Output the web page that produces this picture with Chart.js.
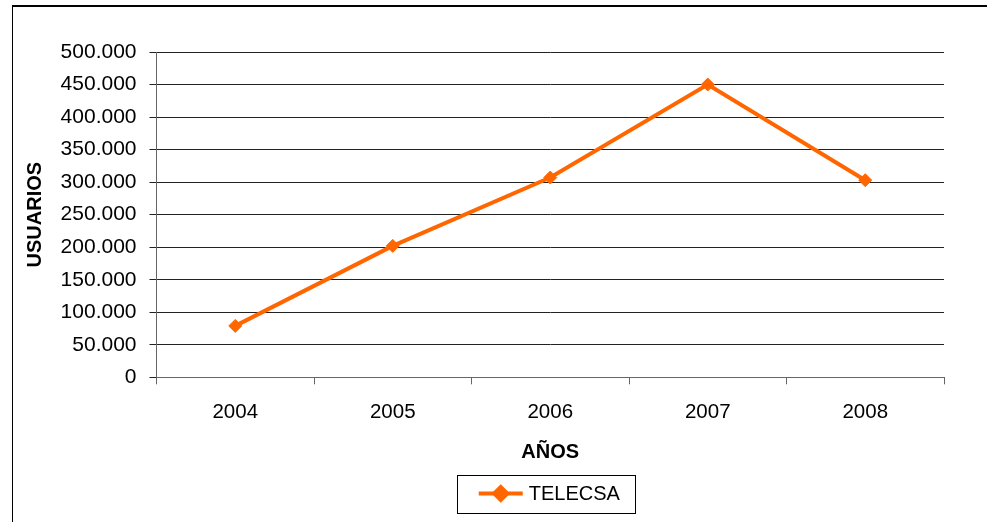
<!DOCTYPE html>
<html>
<head>
<meta charset="utf-8">
<script src="https://cdn.jsdelivr.net/npm/chart.js@4/dist/chart.umd.min.js"></script>
<style>
  html, body { margin: 0; padding: 0; background: #fff; overflow: hidden; }
  #wrap { position: relative; width: 987px; height: 522px; }
  #frame { position: absolute; left: 12px; top: 5px; right: 0; bottom: -2px;
           border-top: 2px solid #000; border-left: 1px solid #000; pointer-events: none; }
  canvas { position: absolute; left: 0; top: 0; }
</style>
</head>
<body>
<div id="wrap">
  <canvas id="c" width="987" height="522"></canvas>
  <div id="frame"></div>
</div>
<script>
// ---- data ----
const years = ['2004', '2005', '2006', '2007', '2008'];
const usuarios = [79000, 202000, 307000, 450000, 303000];
const seriesName = 'TELECSA';
const yAxisTitle = 'USUARIOS';
const xAxisTitle = 'AÑOS';
const yMin = 0, yMax = 500000, yStep = 50000;

const ORANGE = '#FF6600';
const FONT = 'Arial, "Liberation Sans", sans-serif';

function fmt(v) {
  return String(v).replace(/\B(?=(\d{3})+(?!\d))/g, '.');
}

// custom boxed legend drawn below the x-axis title
const boxedLegend = {
  id: 'boxedLegend',
  afterDraw(chart) {
    const ctx = chart.ctx;
    const ds = chart.data.datasets[0];
    const ca = chart.chartArea;
    const cx = (ca.left + ca.right) / 2;
    ctx.save();
    ctx.font = '20px ' + FONT;
    const tw = ctx.measureText(ds.label).width;
    const lineLen = 44, gap = 6, padL = 22, padR = 15;
    const w = padL + lineLen + gap + tw + padR;
    const left = cx - 93.5;
    const top = 474.5, h = 38;
    const midY = top + h / 2;
    ctx.strokeStyle = '#000';
    ctx.lineWidth = 1;
    ctx.strokeRect(Math.round(left) + 0.5, Math.round(top) + 0.5, Math.round(w), h);
    ctx.strokeStyle = ds.borderColor;
    ctx.lineWidth = 4;
    ctx.beginPath();
    ctx.moveTo(left + padL, midY);
    ctx.lineTo(left + padL + lineLen, midY);
    ctx.stroke();
    Chart.helpers.drawPoint(ctx, {pointStyle: 'rectRot', radius: 6.5, borderWidth: 1},
      left + padL + lineLen / 2, midY);
    ctx.fillStyle = ds.pointBackgroundColor;
    ctx.fill();
    ctx.fillStyle = '#000';
    ctx.textBaseline = 'middle';
    ctx.textAlign = 'left';
    ctx.fillText(ds.label, left + padL + lineLen + gap, midY + 1);
    ctx.restore();
  }
};

new Chart(document.getElementById('c'), {
  type: 'line',
  data: {
    labels: years,
    datasets: [{
      label: seriesName,
      data: usuarios,
      borderColor: ORANGE,
      backgroundColor: ORANGE,
      pointBackgroundColor: ORANGE,
      pointBorderColor: ORANGE,
      borderWidth: 4,
      pointStyle: 'rectRot',
      pointRadius: 6.5,
      pointBorderWidth: 1,
      tension: 0,
      fill: false
    }]
  },
  options: {
    responsive: false,
    animation: false,
    devicePixelRatio: 1,
    layout: { padding: { left: 23.5, right: 43, top: 52, bottom: 57.3 } },
    plugins: {
      legend: { display: false },
      tooltip: { enabled: false }
    },
    scales: {
      x: {
        type: 'category',
        offset: true,
        grid: {
          display: true,
          offset: true,
          drawOnChartArea: false,
          drawTicks: true,
          tickLength: 7,
          color: '#666',
          lineWidth: 1
        },
        border: { display: true, color: '#666', width: 1 },
        ticks: {
          color: '#000',
          font: { family: FONT, size: 20.5 },
          padding: 16,
          maxRotation: 0
        },
        title: {
          display: true,
          text: xAxisTitle,
          color: '#000',
          font: { family: FONT, size: 20, weight: 'bold' },
          padding: { top: 0, bottom: 0 }
        },
        afterFit(s) { s.height = 87.4; }
      },
      y: {
        min: yMin,
        max: yMax,
        grid: {
          color: '#222',
          lineWidth: 1,
          drawTicks: true,
          tickLength: 7
        },
        border: { display: true, color: '#666', width: 1 },
        ticks: {
          stepSize: yStep,
          color: '#000',
          font: { family: FONT, size: 21 },
          padding: 13,
          callback: (v) => fmt(v)
        },
        title: {
          display: true,
          text: yAxisTitle,
          color: '#000',
          font: { family: FONT, size: 20, weight: 'bold' },
          padding: { top: 0, bottom: 0 }
        },
        afterFit(s) { s.width = 133; }
      }
    }
  },
  plugins: [boxedLegend]
});
</script>
</body>
</html>
